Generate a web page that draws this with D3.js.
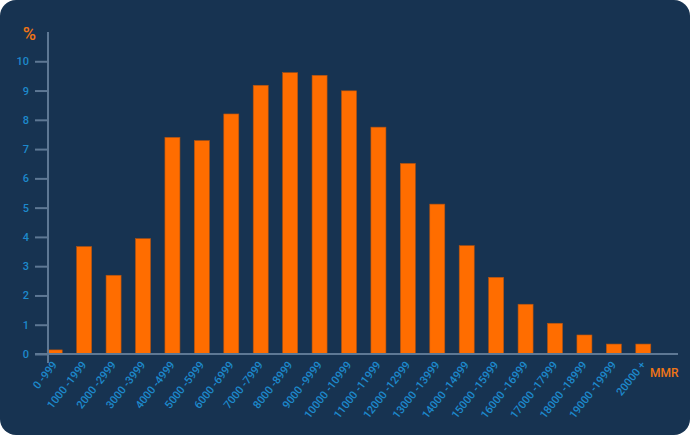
<!DOCTYPE html>
<html>
<head>
<meta charset="utf-8">
<script src="https://cdn.jsdelivr.net/npm/d3@7"></script>
<style>
	body{margin:0;background:#fff}
	svg{display:block}
	text{font-family:Roboto,"Noto Sans",sans-serif}
</style>
</head>
<body>
<div id="chart"></div>
<script>

let categories = ['0 -999','1000 -1999','2000 -2999','3000 -3999','4000 -4999','5000 -5999','6000 -6999','7000 -7999','8000 -8999','9000 -9999','10000 -10999','11000 -11999','12000 -12999','13000 -13999','14000 -14999','15000 -15999','16000 -16999','17000 -17999','18000 -18999','19000 -19999','20000 +']
let percentages = [0.14,3.67,2.69,3.94,7.40,7.29,8.20,9.18,9.61,9.52,8.99,7.75,6.51,5.12,3.70,2.62,1.70,1.05,0.65,0.34,0.34]
let yTicks = [0,1,2,3,4,5,6,7,8,9,10]

let width = 690, height = 435
let axisColour = '#5e7894'
let labelColour = '#1d89cc'
let orange = '#ff6d00'

let svg = d3.select('#chart').append('svg').attr('width',width).attr('height',height)

svg.append('rect')
	.attr('width',width).attr('height',height)
	.attr('rx',16).attr('ry',16)
	.attr('fill','#173351')

let x = d3.scaleBand()
	.domain(categories)
	.range([40,658])
	.paddingInner(0.49)
	.paddingOuter(0.245)

let y = d3.scaleLinear()
	.domain([0,11])
	.range([354,32])

// bars
svg.selectAll('.bar')
	.data(percentages)
	.enter()
	.append('rect')
	.attr('class','bar')
	.attr('x',function(d,i){return x(categories[i])})
	.attr('width',x.bandwidth())
	.attr('y',function(d){return y(d)})
	.attr('height',function(d){return y(0)-y(d)})
	.attr('fill',orange)
	.attr('stroke','#b2520f')
	.attr('stroke-width',0.6)

// y axis
let yAxis = svg.append('g')
	.attr('transform','translate(48,0)')
	.call(d3.axisLeft(y).tickValues(yTicks).tickSize(13).tickPadding(6).tickFormat(d3.format('d')))

yAxis.select('.domain').remove()
yAxis.selectAll('line').attr('stroke',axisColour).attr('stroke-width',2)
yAxis.selectAll('text')
	.attr('fill',labelColour)
	.attr('font-size',11)
	.attr('font-weight',500)

svg.append('line')
	.attr('x1',48).attr('x2',48)
	.attr('y1',y(11)).attr('y2',363)
	.attr('stroke',axisColour).attr('stroke-width',2)

// x axis
svg.append('line')
	.attr('x1',35).attr('x2',678)
	.attr('y1',y(0)).attr('y2',y(0))
	.attr('stroke',axisColour).attr('stroke-width',2)

svg.selectAll('.xlabel')
	.data(categories)
	.enter()
	.append('text')
	.attr('class','xlabel')
	.attr('transform',function(d){
		let cx = x(d)+x.bandwidth()/2
		return 'translate('+(cx+3)+',365) rotate(-52)'
	})
	.attr('text-anchor','end')
	.attr('fill',labelColour)
	.attr('font-size',11)
	.attr('font-weight',500)
	.text(function(d){return d})

// axis titles
svg.append('text')
	.attr('x',29.5).attr('y',40)
	.attr('text-anchor','middle')
	.attr('fill','#f07516')
	.attr('font-size',18)
	.attr('font-weight',500)
	.text('%')

svg.append('text')
	.attr('x',650).attr('y',377)
	.attr('fill','#f07516')
	.attr('font-size',12)
	.attr('font-weight',500)
	.text('MMR')

</script>
</body>
</html>
